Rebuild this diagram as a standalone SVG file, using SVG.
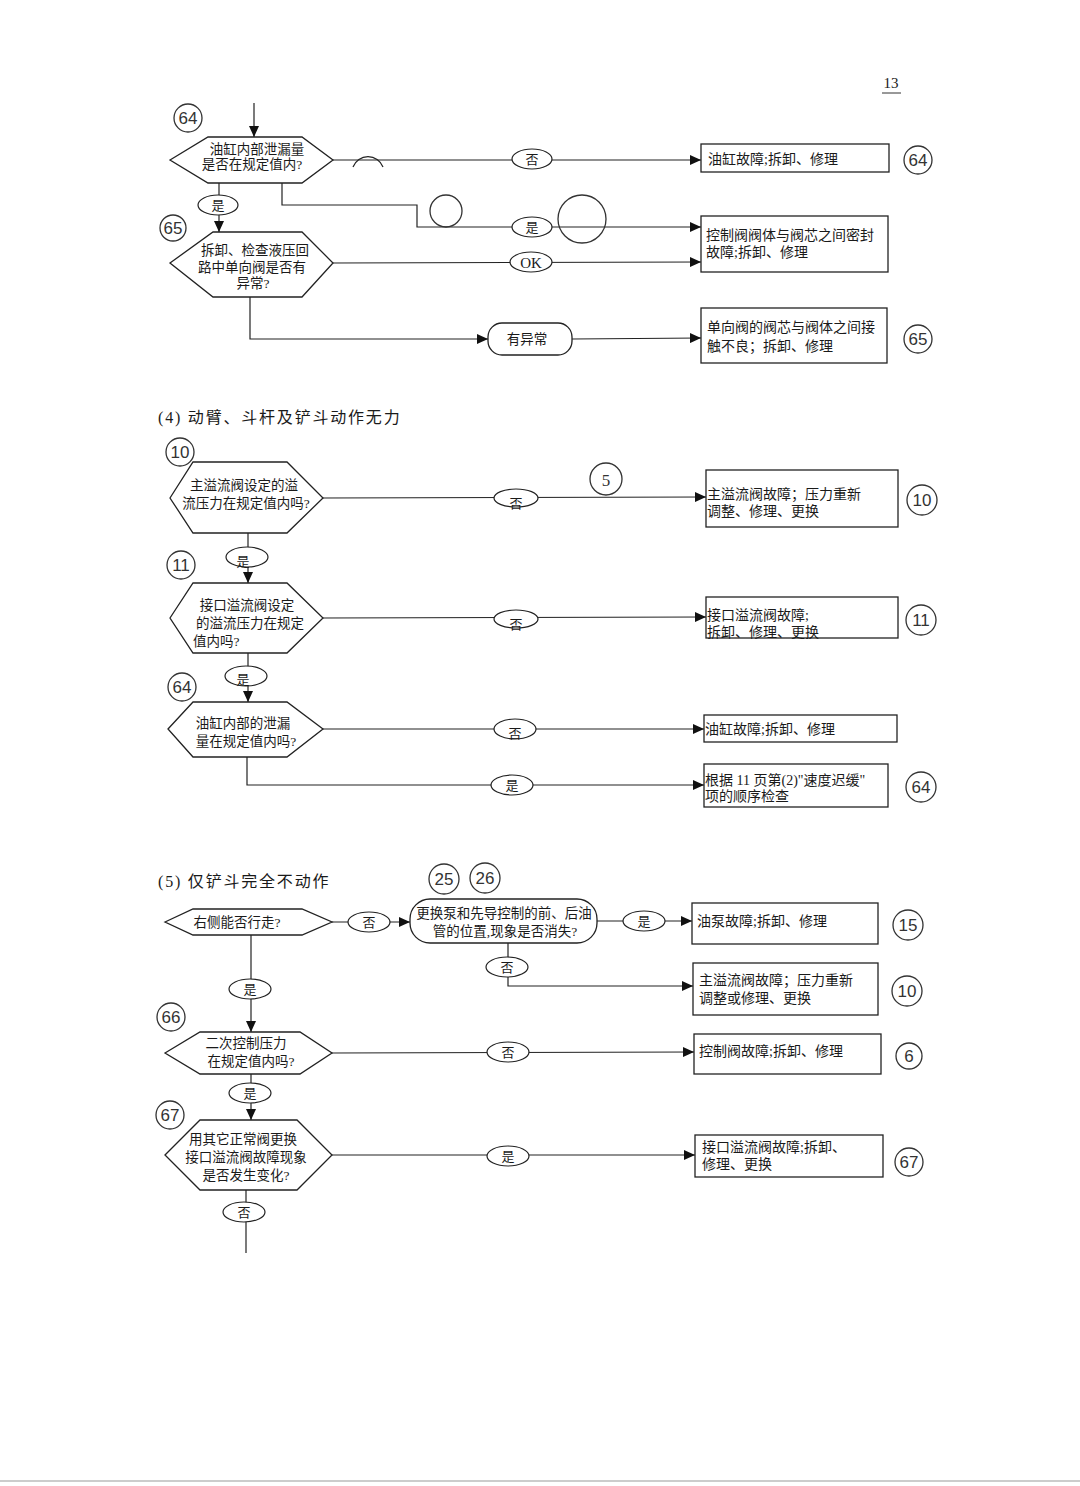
<svg xmlns="http://www.w3.org/2000/svg" width="1080" height="1486" viewBox="0 0 1080 1486">
<style>
  text { font-family: "Liberation Serif", "Noto Sans CJK SC", serif; fill: #1a1a1a; }
  .t { font-size: 14px; }
  .h { font-size: 13.5px; }
  .lab { font-size: 13px; text-anchor: middle; }
  .title { font-size: 16px; letter-spacing: 1.8px; }
  .num { font-family: "Liberation Sans", "DejaVu Sans", sans-serif; font-size: 17px; text-anchor: middle; fill: #333; }
  .hex, .box, .pill { fill: #fff; stroke: #222; stroke-width: 1.3; }
  .ell { fill: #fff; stroke: #222; stroke-width: 1.2; }
  .hand { fill: none; stroke: #333; stroke-width: 1.3; }
  .ln { fill: none; stroke: #222; stroke-width: 1.2; }
  .arr { marker-end: url(#ah); }
</style>
<defs>
  <marker id="ah" markerUnits="userSpaceOnUse" markerWidth="12" markerHeight="10" refX="11" refY="5" orient="auto">
    <path d="M0,0 L11,5 L0,10 z" fill="#111"/>
  </marker>
</defs>
<rect width="1080" height="1486" fill="#fff"/>

<!-- page number -->
<text x="891" y="88" style="font-size:15px" text-anchor="middle">13</text>
<line x1="882" y1="93" x2="901" y2="93" stroke="#333" stroke-width="1"/>

<!-- section titles -->
<text class="title" x="158" y="423">(4) 动臂、斗杆及铲斗动作无力</text>
<text class="title" x="158" y="887">(5) 仅铲斗完全不动作</text>

<!-- connectors -->
<g id="connectors">
  <line class="ln arr" x1="254" y1="103" x2="254" y2="137"/>
  <line class="ln arr" x1="333" y1="160" x2="701" y2="160"/>
  <path class="ln" d="M353,167 A16,16 0 0 1 383,167"/>
  <line class="ln arr" x1="219" y1="183" x2="219" y2="232"/>
  <polyline class="ln arr" points="282,183 282,205 417,205 417,227 701,227"/>
  <circle class="hand" cx="446" cy="211" r="16"/>
  <circle class="hand" cx="582" cy="219" r="24"/>
  <line class="ln arr" x1="333" y1="263" x2="701" y2="262"/>
  <polyline class="ln arr" points="250,297 250,339 488,339"/>
  <line class="ln arr" x1="572" y1="339" x2="701" y2="338"/>

  <line class="ln arr" x1="323" y1="498" x2="706" y2="497"/>
  <line class="ln arr" x1="248" y1="533" x2="248" y2="583"/>
  <line class="ln arr" x1="323" y1="618" x2="706" y2="617"/>
  <line class="ln arr" x1="248" y1="653" x2="248" y2="702"/>
  <line class="ln arr" x1="323" y1="729" x2="704" y2="729"/>
  <polyline class="ln arr" points="247,757 247,785 704,785"/>

  <line class="ln arr" x1="332" y1="922" x2="410" y2="922"/>
  <line class="ln arr" x1="597" y1="921" x2="692" y2="921"/>
  <polyline class="ln arr" points="508,943 508,986 693,986"/>
  <line class="ln arr" x1="251" y1="935" x2="251" y2="1032"/>
  <line class="ln arr" x1="332" y1="1053" x2="694" y2="1052"/>
  <line class="ln arr" x1="251" y1="1074" x2="251" y2="1120"/>
  <line class="ln arr" x1="332" y1="1155" x2="695" y2="1155"/>
  <line class="ln" x1="246" y1="1190" x2="246" y2="1253"/>

  <g id="labels">
    <ellipse class="ell" cx="532" cy="159" rx="20" ry="10"/><text class="lab" x="532" y="164">否</text>
    <ellipse class="ell" cx="218" cy="205" rx="20" ry="10"/><text class="lab" x="218" y="210">是</text>
    <ellipse class="ell" cx="532" cy="227" rx="20" ry="10"/><text class="lab" x="532" y="232">是</text>
    <ellipse class="ell" cx="531" cy="262" rx="21" ry="10"/><text class="lab" x="531" y="268" style="font-size:15px">OK</text>
    <ellipse class="ell" cx="516" cy="498" rx="22" ry="9"/><text class="lab" x="516" y="508">否</text>
    <ellipse class="ell" cx="247" cy="557" rx="21" ry="10"/><text class="lab" x="243" y="566">是</text>
    <ellipse class="ell" cx="516" cy="619" rx="22" ry="9"/><text class="lab" x="516" y="629">否</text>
    <ellipse class="ell" cx="246" cy="676" rx="21" ry="10"/><text class="lab" x="243" y="684">是</text>
    <ellipse class="ell" cx="515" cy="729" rx="21" ry="10"/><text class="lab" x="515" y="738">否</text>
    <ellipse class="ell" cx="512" cy="785" rx="21" ry="10"/><text class="lab" x="512" y="790">是</text>
    <ellipse class="ell" cx="369" cy="922" rx="21" ry="10"/><text class="lab" x="369" y="927">否</text>
    <ellipse class="ell" cx="644" cy="921" rx="21" ry="10"/><text class="lab" x="644" y="926">是</text>
    <ellipse class="ell" cx="507" cy="967" rx="21" ry="10"/><text class="lab" x="507" y="972">否</text>
    <ellipse class="ell" cx="250" cy="989" rx="21" ry="10"/><text class="lab" x="250" y="994">是</text>
    <ellipse class="ell" cx="508" cy="1052" rx="21" ry="10"/><text class="lab" x="508" y="1057">否</text>
    <ellipse class="ell" cx="250" cy="1093" rx="21" ry="10"/><text class="lab" x="250" y="1098">是</text>
    <ellipse class="ell" cx="508" cy="1156" rx="21" ry="10"/><text class="lab" x="508" y="1161">是</text>
    <ellipse class="ell" cx="244" cy="1212" rx="21" ry="10"/><text class="lab" x="244" y="1217">否</text>
  </g>
</g>

<g id="d1">
  <polygon class="hex" points="170,160 208,137 302,137 333,160 302,183 208,183"/>
  <text class="h" x="257" y="154" text-anchor="middle">油缸内部泄漏量</text>
  <text class="h" x="252" y="169" text-anchor="middle">是否在规定值内?</text>
</g>
<g id="d2">
  <polygon class="hex" points="170,263 213,232 302,232 333,263 302,297 213,297"/>
  <text class="h" x="255" y="255" text-anchor="middle">拆卸、检查液压回</text>
  <text class="h" x="252" y="272" text-anchor="middle">路中单向阀是否有</text>
  <text class="h" x="253" y="288" text-anchor="middle">异常?</text>
</g>
<g id="p1">
  <rect class="pill" x="488" y="323" width="84" height="32" rx="14"/>
  <text class="h" x="527" y="344" text-anchor="middle">有异常</text>
</g>
<g id="d3">
  <polygon class="hex" points="170,498 193,462 287,462 323,498 287,533 193,533"/>
  <text class="h" x="244" y="490" text-anchor="middle">主溢流阀设定的溢</text>
  <text class="h" x="246" y="508" text-anchor="middle">流压力在规定值内吗?</text>
</g>
<g id="d4">
  <polygon class="hex" points="170,618 193,583 287,583 323,618 287,653 193,653"/>
  <text class="h" x="247" y="610" text-anchor="middle">接口溢流阀设定</text>
  <text class="h" x="250" y="628" text-anchor="middle">的溢流压力在规定</text>
  <text class="h" x="193" y="646">值内吗?</text>
</g>
<g id="d5">
  <polygon class="hex" points="168,729 193,702 287,702 323,729 287,757 193,757"/>
  <text class="h" x="243" y="728" text-anchor="middle">油缸内部的泄漏</text>
  <text class="h" x="246" y="746" text-anchor="middle">量在规定值内吗?</text>
</g>
<g id="d6">
  <polygon class="hex" points="165,922 193,909 302,909 332,922 302,935 193,935"/>
  <text class="h" x="237" y="927" text-anchor="middle">右侧能否行走?</text>
</g>
<g id="p2">
  <rect class="pill" x="410" y="899" width="187" height="44" rx="20"/>
  <text class="h" x="504" y="918" text-anchor="middle">更换泵和先导控制的前、后油</text>
  <text class="h" x="505" y="936" text-anchor="middle">管的位置,现象是否消失?</text>
</g>
<g id="d7">
  <polygon class="hex" points="165,1053 200,1032 300,1032 332,1053 300,1074 200,1074"/>
  <text class="h" x="246" y="1048" text-anchor="middle">二次控制压力</text>
  <text class="h" x="251" y="1066" text-anchor="middle">在规定值内吗?</text>
</g>
<g id="d8">
  <polygon class="hex" points="165,1155 200,1120 297,1120 332,1155 297,1190 200,1190"/>
  <text class="h" x="243" y="1144" text-anchor="middle">用其它正常阀更换</text>
  <text class="h" x="246" y="1162" text-anchor="middle">接口溢流阀故障现象</text>
  <text class="h" x="246" y="1180" text-anchor="middle">是否发生变化?</text>
</g>

<g id="r1">
  <rect class="box" x="701" y="144" width="188" height="28"/>
  <text class="t" x="708" y="164">油缸故障;拆卸、修理</text>
</g>
<g id="r2">
  <rect class="box" x="701" y="216" width="187" height="56"/>
  <text class="t" x="706" y="240">控制阀阀体与阀芯之间密封</text>
  <text class="t" x="706" y="257">故障;拆卸、修理</text>
</g>
<g id="r3">
  <rect class="box" x="701" y="308" width="186" height="55"/>
  <text class="t" x="707" y="332">单向阀的阀芯与阀体之间接</text>
  <text class="t" x="707" y="351">触不良；拆卸、修理</text>
</g>
<g id="r4">
  <rect class="box" x="706" y="470" width="192" height="57"/>
  <text class="t" x="707" y="499">主溢流阀故障；压力重新</text>
  <text class="t" x="707" y="516">调整、修理、更换</text>
</g>
<g id="r5">
  <rect class="box" x="706" y="597" width="192" height="41"/>
  <text class="t" x="707" y="620">接口溢流阀故障;</text>
  <text class="t" x="707" y="637">拆卸、修理、更换</text>
</g>
<g id="r6">
  <rect class="box" x="704" y="715" width="193" height="27"/>
  <text class="t" x="705" y="734">油缸故障;拆卸、修理</text>
</g>
<g id="r7">
  <rect class="box" x="704" y="764" width="184" height="43"/>
  <text class="t" x="705" y="785">根据 11 页第(2)"速度迟缓"</text>
  <text class="t" x="705" y="801">项的顺序检查</text>
</g>
<g id="r8">
  <rect class="box" x="692" y="903" width="186" height="41"/>
  <text class="t" x="697" y="926">油泵故障;拆卸、修理</text>
</g>
<g id="r9">
  <rect class="box" x="693" y="963" width="185" height="52"/>
  <text class="t" x="699" y="985">主溢流阀故障；压力重新</text>
  <text class="t" x="699" y="1003">调整或修理、更换</text>
</g>
<g id="r10">
  <rect class="box" x="694" y="1034" width="187" height="40"/>
  <text class="t" x="699" y="1056">控制阀故障;拆卸、修理</text>
</g>
<g id="r11">
  <rect class="box" x="695" y="1135" width="188" height="42"/>
  <text class="t" x="702" y="1152">接口溢流阀故障;拆卸、</text>
  <text class="t" x="702" y="1169">修理、更换</text>
</g>

<g id="refs">
  <circle class="hand" cx="188" cy="118" r="14"/><text class="num" x="188" y="124">64</text>
  <circle class="hand" cx="918" cy="160" r="14"/><text class="num" x="918" y="166">64</text>
  <circle class="hand" cx="173" cy="228" r="13"/><text class="num" x="173" y="234">65</text>
  <circle class="hand" cx="918" cy="339" r="14"/><text class="num" x="918" y="345">65</text>
  <circle class="hand" cx="180" cy="452" r="14"/><text class="num" x="180" y="458">10</text>
  <circle class="hand" cx="606" cy="479" r="16"/><text class="num" x="606" y="486" style="font-family:'Liberation Serif',serif">5</text>
  <circle class="hand" cx="922" cy="500" r="15"/><text class="num" x="922" y="506">10</text>
  <circle class="hand" cx="181" cy="565" r="14"/><text class="num" x="181" y="571">11</text>
  <circle class="hand" cx="921" cy="620" r="15"/><text class="num" x="921" y="626">11</text>
  <circle class="hand" cx="182" cy="687" r="14"/><text class="num" x="182" y="693">64</text>
  <circle class="hand" cx="921" cy="787" r="15"/><text class="num" x="921" y="793">64</text>
  <circle class="hand" cx="444" cy="879" r="15"/><text class="num" x="444" y="885">25</text>
  <circle class="hand" cx="485" cy="878" r="15"/><text class="num" x="485" y="884">26</text>
  <circle class="hand" cx="908" cy="925" r="15"/><text class="num" x="908" y="931">15</text>
  <circle class="hand" cx="907" cy="991" r="15"/><text class="num" x="907" y="997">10</text>
  <circle class="hand" cx="171" cy="1017" r="14"/><text class="num" x="171" y="1023">66</text>
  <circle class="hand" cx="909" cy="1056" r="13"/><text class="num" x="909" y="1062">6</text>
  <circle class="hand" cx="170" cy="1115" r="14"/><text class="num" x="170" y="1121">67</text>
  <circle class="hand" cx="909" cy="1162" r="14"/><text class="num" x="909" y="1168">67</text>
</g>

<line x1="0" y1="1481" x2="1080" y2="1481" stroke="#bbb" stroke-width="1.5"/>
</svg>
